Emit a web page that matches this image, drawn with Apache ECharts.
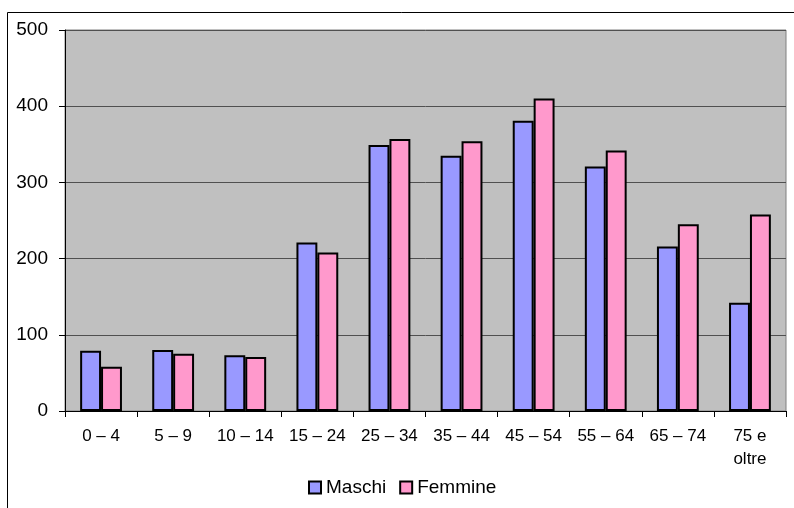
<!DOCTYPE html>
<html>
<head>
<meta charset="utf-8">
<script src="https://cdn.jsdelivr.net/npm/echarts@6/dist/echarts.min.js"></script>
<style>
html,body{margin:0;padding:0;background:#fff;}
#main{width:794px;height:508px;}
</style>
</head>
<body>
<div id="main"></div>
<script>
const categories = ['0 – 4', '5 – 9', '10 – 14', '15 – 24', '25 – 34', '35 – 44', '45 – 54', '55 – 64', '65 – 74', '75 e\noltre'];
const maschi = [79, 80, 73, 221, 349, 335, 381, 321, 216, 142];
const femmine = [58, 75, 71, 208, 357, 354, 410, 342, 245, 258];
const yTicks = { min: 0, max: 500, interval: 100 };

const chart = echarts.init(document.getElementById('main'), null, { renderer: 'canvas' });
const font = 'Liberation Sans, Arial, sans-serif';
chart.setOption({
  animation: false,
  backgroundColor: '#ffffff',
  textStyle: { fontFamily: font },
  graphic: [{
    type: 'rect',
    shape: { x: 7.5, y: 12.5, width: 820, height: 520 },
    style: { fill: 'none', stroke: '#000', lineWidth: 1 },
    silent: true
  }],
  grid: {
    left: 65, right: 8, top: 30, bottom: 97,
    show: true, backgroundColor: '#C0C0C0', borderColor: '#808080', borderWidth: 1
  },
  legend: {
    left: 303, top: 473,
    icon: 'rect', itemWidth: 12, itemHeight: 12, itemGap: 13,
    textStyle: { fontSize: 19, color: '#000', fontFamily: font },
    data: ['Maschi', 'Femmine']
  },
  xAxis: {
    type: 'category',
    data: categories,
    axisLine: { show: true, lineStyle: { color: '#000', width: 1 } },
    axisTick: { show: true, length: 6, lineStyle: { color: '#000' } },
    axisLabel: { color: '#000', fontSize: 17, margin: 14, lineHeight: 23, interval: 0, fontFamily: font },
    splitLine: { show: false }
  },
  yAxis: {
    type: 'value',
    min: yTicks.min, max: yTicks.max, interval: yTicks.interval,
    axisLine: { show: true, lineStyle: { color: '#000', width: 1 } },
    axisTick: { show: true, length: 6, lineStyle: { color: '#000' } },
    axisLabel: { color: '#000', fontSize: 19, margin: 17, fontFamily: font },
    splitLine: { show: true, lineStyle: { color: '#505050', width: 1 } }
  },
  series: [
    {
      name: 'Maschi', type: 'bar', data: maschi,
      barGap: '0%', barCategoryGap: '42%',
      itemStyle: { color: '#9999FF', borderColor: '#000', borderWidth: 2 }
    },
    {
      name: 'Femmine', type: 'bar', data: femmine,
      barGap: '0%', barCategoryGap: '42%',
      itemStyle: { color: '#FF99CC', borderColor: '#000', borderWidth: 2 }
    }
  ]
});
</script>
</body>
</html>
